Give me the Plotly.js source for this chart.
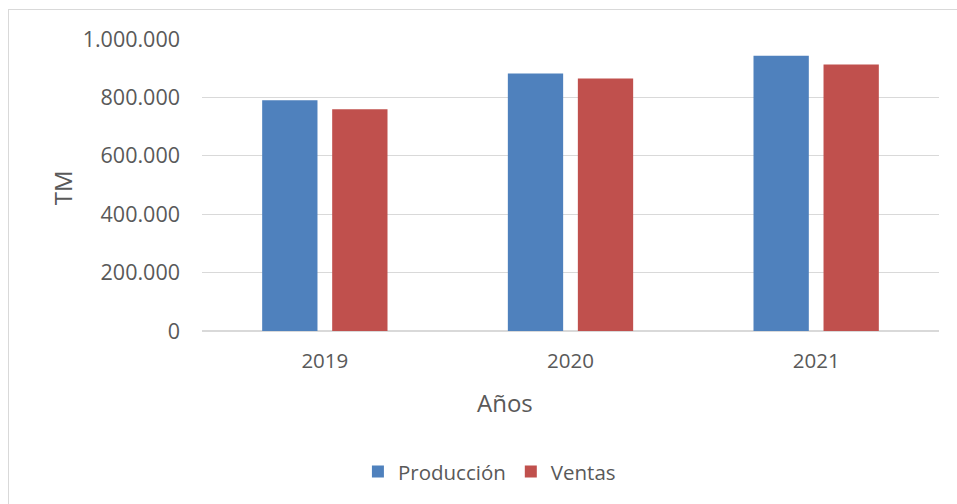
<!DOCTYPE html>
<html>
<head>
<meta charset="utf-8">
<script src="https://cdn.plot.ly/plotly-3.0.1.min.js"></script>
<style>
  html, body { margin: 0; padding: 0; background: #ffffff; overflow: hidden; }
  #wrap { position: relative; width: 957px; height: 504px; }
  #chart { width: 957px; height: 504px; }
  #frame { position: absolute; left: 8px; top: 9px; width: 2000px; height: 2000px;
           border-left: 1.5px solid #d9d9d9; border-top: 1.5px solid #d9d9d9; pointer-events: none; }
</style>
</head>
<body>
<div id="wrap">
  <div id="chart"></div>
  <div id="frame"></div>
</div>
<script>
const years = ['2019', '2020', '2021'];
const produccion = [790000, 882000, 943000];
const ventas = [759000, 865000, 913000];
const seriesNames = ['Producción', 'Ventas'];
const yTicks = [0, 200000, 400000, 600000, 800000, 1000000];

const textColor = '#595959';
const fontFamily = '"Open Sans", "Liberation Sans", sans-serif';

const traces = [
  { type: 'bar', name: seriesNames[0], x: years, y: produccion,
    marker: { color: '#4f81bd' }, hoverinfo: 'x+y' },
  { type: 'bar', name: seriesNames[1], x: years, y: ventas,
    marker: { color: '#c0504d' }, hoverinfo: 'x+y' }
];

const layout = {
  width: 957, height: 504,
  paper_bgcolor: '#ffffff', plot_bgcolor: '#ffffff',
  separators: ',.',
  margin: { l: 202, r: 18, t: 39, b: 173.3, pad: 0 },
  barmode: 'group', bargap: 0.43, bargroupgap: 0.21,
  font: { family: fontFamily, color: textColor, size: 20 },
  xaxis: {
    type: 'category', showgrid: false, zeroline: false,
    showline: false, ticks: '', ticklabelstandoff: 15,
    tickfont: { size: 20.5, color: textColor, family: fontFamily }
  },
  yaxis: {
    range: [0, 1000000], tickvals: yTicks, tickformat: ',d',
    showgrid: true, gridcolor: '#d9d9d9', gridwidth: 1,
    zeroline: true, zerolinecolor: '#d9d9d9', zerolinewidth: 1.3,
    showline: false, ticks: '', ticklabelstandoff: 21,
    tickfont: { size: 21.5, color: textColor, family: fontFamily }
  },
  showlegend: true,
  legend: {
    orientation: 'h', xref: 'container', yref: 'container',
    x: 0.374, xanchor: 'left', y: 0.064, yanchor: 'middle',
    font: { size: 20.5, color: textColor, family: fontFamily },
    itemwidth: 30, traceorder: 'normal'
  },
  annotations: [
    { text: 'Años', xref: 'paper', yref: 'paper', x: (505 - 202) / 737, y: (330.7 - 402) / 291.7,
      showarrow: false, xanchor: 'center', yanchor: 'middle',
      font: { size: 24, color: textColor, family: fontFamily } },
    { text: 'TM', xref: 'paper', yref: 'paper', x: (62 - 202) / 737, y: (330.7 - 188) / 291.7,
      showarrow: false, xanchor: 'center', yanchor: 'middle', textangle: -90,
      font: { size: 24, color: textColor, family: fontFamily } }
  ]
};

Plotly.newPlot('chart', traces, layout, { displayModeBar: false, staticPlot: true });
</script>
</body>
</html>
